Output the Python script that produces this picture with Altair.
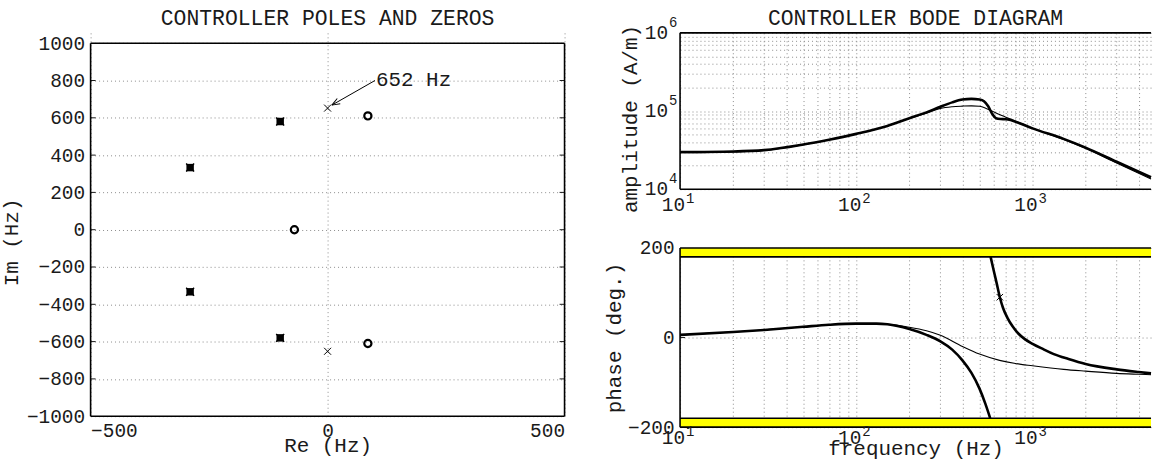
import altair as alt
import pandas as pd

FONT = "Liberation Mono"
INK = "#1a1a1a"
GRID = "#8c8c8c"

# ---------------- pole / zero map (Hz) ----------------
pole_re = [0, 0]
pole_im = [652, -652]
zero_re = [85, 85, -70]
zero_im = [610, -610, 0]
# pole and zero sitting on top of each other
pair_re = [-100, -100, -290, -290]
pair_im = [580, -580, 333, -333]

note_text = ["652 Hz"]
note_re = [100]
note_im = [800]
tip_re = [9]
tip_im = [668]

re_ticks = [-500, 0, 500]
im_ticks = [-1000, -800, -600, -400, -200, 0, 200, 400, 600, 800, 1000]

# ---------------- Bode data ----------------
amp_f_thick = [10, 20, 30, 50, 70, 100, 150, 200, 250, 300, 350, 400, 450, 500,
               530, 560, 590, 620, 660, 700, 750, 800, 1000, 1500, 2000, 3000, 4000, 4700]
amp_thick = [29900, 30400, 31600, 37300, 43000, 51000, 64500, 81000, 96000, 113500,
             129000, 140000, 143000, 140000, 133000, 115000, 92000, 81000, 79000,
             78500, 76500, 73000, 60000, 44000, 34000, 22400, 16700, 14200]

amp_f_thin = [10, 20, 30, 50, 70, 100, 150, 200, 250, 300, 350, 400, 450, 500,
              550, 600, 650, 700, 800, 1000, 1500, 2000, 3000, 4000, 4700]
amp_thin = [29200, 29900, 31200, 37000, 42800, 51000, 64500, 80000, 93500, 108000,
            113500, 115500, 116500, 115000, 107000, 98000, 90000, 84000, 74000,
            60000, 43200, 33100, 21600, 16000, 13500]

ph_f_thick_a = [10, 20, 30, 50, 70, 100, 130, 150, 200, 250, 300, 350, 400, 450,
                500, 540, 575]
ph_thick_a = [6, 12.5, 17, 24, 28.5, 31, 31, 29.5, 19, 6, -8.5, -27, -51, -79,
              -114, -148, -180]

ph_f_thick_b = [578, 600, 625, 652, 680, 720, 770, 830, 900, 1000, 1150, 1320,
                1600, 2000, 3000, 4000, 4700]
ph_thick_b = [180, 152, 122, 90, 66, 44, 25, 9, -3, -14, -26, -37, -48, -59, -71,
              -77, -80]

ph_f_thin = [10, 20, 30, 50, 70, 100, 150, 200, 250, 300, 400, 500, 650, 800,
             1000, 1500, 2000, 3000, 4000, 4700]
ph_thin = [6, 12.5, 17, 24, 28.5, 31, 29.5, 23, 15, 5, -20, -37, -51, -58, -63,
           -71, -75, -80, -82, -83]

mark_f = [652]
mark_ph = [90]

f_grid = [10, 20, 30, 40, 50, 60, 70, 80, 90, 100, 200, 300, 400, 500, 600, 700,
          800, 900, 1000, 2000, 3000, 4000]
a_grid = [1e4, 2e4, 3e4, 4e4, 5e4, 6e4, 7e4, 8e4, 9e4, 1e5, 2e5, 3e5, 4e5, 5e5,
          6e5, 7e5, 8e5, 9e5, 1e6]
f_dec = [10, 100, 1000]
f_exp = ["1", "2", "3"]
a_dec = [1e4, 1e5, 1e6]
a_exp = ["4", "5", "6"]
ph_ticks = [-200, 0, 200]
band_lo = [180, -200]
band_hi = [200, -180]

pz_title = ["CONTROLLER POLES AND ZEROS"]
bode_title = ["CONTROLLER BODE DIAGRAM"]

# ---------------- geometry ----------------
LW, LH = 476, 385          # pole/zero panel (a little headroom above +1000)
IM_TOP = 1055.5
RW, AH, PH = 473, 157, 180
F_MAX = 4700
TITLE_SIZE = 21.5

X_SHAPE = "M-1,-1L1,1M-1,1L1,-1"
HEAD_SHAPE = "M0,0L2,-0.75M0,0L2,0.75"

# ======================= pole / zero panel =======================
pz_x = alt.X("re:Q", scale=alt.Scale(domain=[-500, 500], nice=False, zero=False),
             axis=alt.Axis(values=re_ticks, grid=True, labelPadding=20,
                           labelBaseline="alphabetic", format="d", title="Re (Hz)",
                           titleY=35, titleBaseline="alphabetic"))
pz_y = alt.Y("im:Q", scale=alt.Scale(domain=[-1000, IM_TOP], nice=False, zero=False),
             axis=alt.Axis(values=im_ticks, grid=True, labelPadding=6, format="d",
                           labelBaseline="middle", title="Im (Hz)", titleAngle=270,
                           titleX=-73, titleY=210, titleAlign="center",
                           titleBaseline="alphabetic"))

poles = pd.DataFrame({"re": pole_re, "im": pole_im})
zeros = pd.DataFrame({"re": zero_re, "im": zero_im})
pairs = pd.DataFrame({"re": pair_re, "im": pair_im})
note = pd.DataFrame({"re": note_re, "im": note_im, "txt": note_text,
                     "re2": tip_re, "im2": tip_im})
tip = pd.DataFrame({"re": tip_re, "im": tip_im})
pz_frame = pd.DataFrame({"re": [-500, -500, -500, 500],
                         "im": [-1000, 1000, -1000, -1000],
                         "re2": [500, 500, -500, 500],
                         "im2": [-1000, 1000, 1000, 1000]})
pz_tick = pd.DataFrame({"im": im_ticks[1:-1]})
pz_head = pd.DataFrame({"t": pz_title})

pz = alt.layer(
    alt.Chart(pz_tick).mark_rule(color=INK, strokeWidth=1).encode(
        x=alt.value(0), x2=alt.value(5), y=pz_y),
    alt.Chart(pz_tick).mark_rule(color=INK, strokeWidth=1).encode(
        x=alt.value(LW - 5), x2=alt.value(LW), y=pz_y),
    alt.Chart(pz_frame).mark_rule(color="black", strokeWidth=1.6).encode(
        x=pz_x, y=pz_y, x2="re2:Q", y2="im2:Q"),
    alt.Chart(poles).mark_point(shape=X_SHAPE, size=49, color="black", strokeWidth=1,
                                filled=False, opacity=1).encode(x=pz_x, y=pz_y),
    alt.Chart(zeros).mark_point(shape="circle", size=52, color="black",
                                strokeWidth=2.2, filled=False,
                                opacity=1).encode(x=pz_x, y=pz_y),
    alt.Chart(pairs).mark_point(shape="square", size=56, color="black",
                                filled=True, opacity=1).encode(x=pz_x, y=pz_y),
    alt.Chart(pairs).mark_point(shape=X_SHAPE, size=64, color="black",
                                strokeWidth=1.4, filled=False,
                                opacity=1).encode(x=pz_x, y=pz_y),
    alt.Chart(note).mark_rule(color="black", strokeWidth=1).encode(
        x=pz_x, y=pz_y, x2="re2:Q", y2="im2:Q"),
    alt.Chart(tip).mark_point(shape=HEAD_SHAPE, size=64, angle=330, color="black",
                              strokeWidth=1, filled=False,
                              opacity=1).encode(x=pz_x, y=pz_y),
    alt.Chart(note).mark_text(align="left", baseline="middle", dx=1, font=FONT,
                              fontSize=21, color=INK).encode(x=pz_x, y=pz_y,
                                                             text="txt:N"),
    alt.Chart(pz_head).mark_text(align="center", baseline="alphabetic", font=FONT,
                                 fontSize=TITLE_SIZE, color=INK).encode(
        x=alt.value(LW / 2), y=alt.value(-8), text="t:N"),
).properties(width=LW, height=LH)

# ======================= amplitude panel =======================
f_scale = alt.Scale(type="log", domain=[10, F_MAX], nice=False)
am_x = alt.X("f:Q", scale=f_scale,
             axis=alt.Axis(values=f_grid, grid=True, labels=False, title=None))
am_y = alt.Y("a:Q", scale=alt.Scale(type="log", domain=[1e4, 1e6], nice=False),
             axis=alt.Axis(values=a_grid, grid=True, labels=False,
                           title="amplitude (A/m)", titleAngle=270, titleX=-44,
                           titleY=86, titleAlign="center",
                           titleBaseline="alphabetic"))

amp_a = pd.DataFrame({"f": amp_f_thick, "a": amp_thick})
amp_b = pd.DataFrame({"f": amp_f_thin, "a": amp_thin})
fdec = pd.DataFrame({"f": f_dec, "e": f_exp, "ten": ["10"] * 3})
adec = pd.DataFrame({"a": a_dec, "e": a_exp, "ten": ["10"] * 3})
am_frame = pd.DataFrame({"a": [1e4, 1e6]})
am_left = pd.DataFrame({"f": [10]})
bode_head = pd.DataFrame({"t": bode_title})

amp = alt.layer(
    alt.Chart(am_frame).mark_rule(color="black", strokeWidth=1.6).encode(y=am_y),
    alt.Chart(am_left).mark_rule(color="black", strokeWidth=1.6).encode(x=am_x),
    alt.Chart(amp_b).mark_line(color="black", strokeWidth=1.1,
                               interpolate="monotone").encode(x=am_x, y=am_y),
    alt.Chart(amp_a).mark_line(color="black", strokeWidth=2.6,
                               interpolate="monotone").encode(x=am_x, y=am_y),
    alt.Chart(fdec).mark_text(align="right", baseline="alphabetic", dx=5, font=FONT,
                              fontSize=19.5, color=INK).encode(
        x=am_x, y=alt.value(AH + 22), text="ten:N"),
    alt.Chart(fdec).mark_text(align="left", baseline="alphabetic", dx=6, font=FONT,
                              fontSize=14, color=INK).encode(
        x=am_x, y=alt.value(AH + 14), text="e:N"),
    alt.Chart(adec).mark_text(align="right", baseline="middle", font=FONT,
                              fontSize=19.5, color=INK).encode(
        x=alt.value(-12), y=am_y, text="ten:N"),
    alt.Chart(adec).mark_text(align="left", baseline="alphabetic", dy=-6, font=FONT,
                              fontSize=14, color=INK).encode(
        x=alt.value(-11), y=am_y, text="e:N"),
    alt.Chart(bode_head).mark_text(align="center", baseline="alphabetic", font=FONT,
                                   fontSize=TITLE_SIZE, color=INK).encode(
        x=alt.value(RW / 2), y=alt.value(-8), text="t:N"),
).properties(width=RW, height=AH)

# ======================= phase panel =======================
ph_x = alt.X("f:Q", scale=f_scale,
             axis=alt.Axis(values=f_grid, grid=True, labels=False,
                           title="frequency (Hz)", titleY=27.5,
                           titleBaseline="alphabetic"))
ph_y = alt.Y("p:Q", scale=alt.Scale(domain=[-200, 200], nice=False, zero=False),
             axis=alt.Axis(values=ph_ticks, grid=True, labelPadding=6, format="d",
                           labelBaseline="middle", title="phase (deg.)",
                           titleAngle=270, titleX=-60, titleY=90,
                           titleAlign="center", titleBaseline="alphabetic"))

bands = pd.DataFrame({"p": band_lo, "p2": band_hi})
ph_lines = pd.DataFrame({"p": [200, 180, -180, -200]})
ph_a = pd.DataFrame({"f": ph_f_thick_a, "p": ph_thick_a})
ph_b = pd.DataFrame({"f": ph_f_thick_b, "p": ph_thick_b})
ph_c = pd.DataFrame({"f": ph_f_thin, "p": ph_thin})
ph_mark = pd.DataFrame({"f": mark_f, "p": mark_ph})
ph_tick = pd.DataFrame({"p": [0]})

phase = alt.layer(
    alt.Chart(bands).mark_rect(color="#ffff00").encode(
        x=alt.value(0), x2=alt.value(RW), y=ph_y, y2="p2:Q"),
    alt.Chart(ph_tick).mark_rule(color=INK, strokeWidth=1).encode(
        x=alt.value(0), x2=alt.value(5), y=ph_y),
    alt.Chart(ph_lines).mark_rule(color="black", strokeWidth=1.6).encode(y=ph_y),
    alt.Chart(am_left).mark_rule(color="black", strokeWidth=1.6).encode(x=ph_x),
    alt.Chart(ph_c).mark_line(color="black", strokeWidth=1.1,
                              interpolate="monotone").encode(x=ph_x, y=ph_y),
    alt.Chart(ph_a).mark_line(color="black", strokeWidth=2.6,
                              interpolate="monotone").encode(x=ph_x, y=ph_y),
    alt.Chart(ph_b).mark_line(color="black", strokeWidth=2.6,
                              interpolate="monotone").encode(x=ph_x, y=ph_y),
    alt.Chart(ph_mark).mark_point(shape=X_SHAPE, size=42, color="black",
                                  strokeWidth=1, filled=False,
                                  opacity=1).encode(x=ph_x, y=ph_y),
    alt.Chart(fdec).mark_text(align="right", baseline="alphabetic", dx=5, font=FONT,
                              fontSize=19.5, color=INK).encode(
        x=ph_x, y=alt.value(PH + 16.5), text="ten:N"),
    alt.Chart(fdec).mark_text(align="left", baseline="alphabetic", dx=6, font=FONT,
                              fontSize=14, color=INK).encode(
        x=ph_x, y=alt.value(PH + 8.5), text="e:N"),
).properties(width=RW, height=PH)

bode = alt.vconcat(amp, phase, spacing=59, bounds="flush")

chart = alt.hconcat(pz, bode, spacing=116, bounds="flush").properties(
    padding={"left": 1, "top": 7, "right": 0, "bottom": 0}
).configure_view(strokeWidth=0).configure_axis(
    labelFont=FONT, labelFontSize=19.5, labelColor=INK, titleFont=FONT,
    titleFontSize=21, titleColor=INK, titleFontWeight="normal", domain=False,
    ticks=False, tickSize=0, gridColor=GRID, gridDash=[1, 3], gridWidth=1,
    gridOpacity=1,
)

chart.save("out.html", embed_options={"renderer": "svg", "actions": False})
